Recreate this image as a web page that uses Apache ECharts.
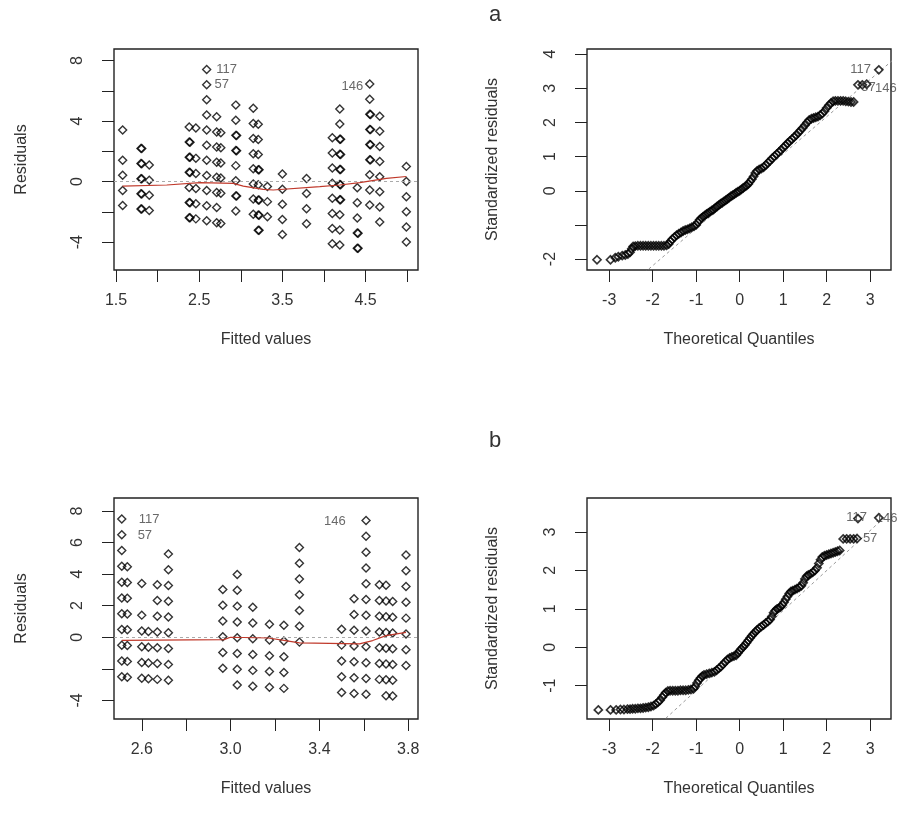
<!DOCTYPE html>
<html><head><meta charset="utf-8">
<script src="https://cdn.jsdelivr.net/npm/echarts@6/dist/echarts.min.js"></script>
<style>html,body{margin:0;padding:0;background:#fff}#c{width:897px;height:829px}</style>
</head><body><div id="c"></div>
<script>
// ---------- Panel a (left): residuals vs fitted ----------
const fittedA = [1.58, 1.80, 1.81, 1.90, 2.38, 2.39, 2.46, 2.59, 2.71, 2.76, 2.94, 2.95, 3.15, 3.21, 3.22, 3.32, 3.50, 3.79, 4.10, 4.19, 4.20, 4.40, 4.41, 4.55, 4.56, 4.67, 4.99];
const residA = [
  [3.42, 1.42, 0.42, -0.58, -1.58],
  [2.2, 1.2, 0.2, -0.8, -1.8],
  [2.19, 1.19, 0.19, -0.81, -1.81],
  [1.1, 0.1, -0.9, -1.9],
  [3.62, 2.62, 1.62, 0.62, -0.38, -1.38, -2.38],
  [2.61, 1.61, 0.61, -1.39, -2.39],
  [3.54, 1.54, 0.54, -0.46, -1.46, -2.46],
  [7.41, 6.41, 5.41, 4.41, 3.41, 2.41, 1.41, 0.41, -0.59, -1.59, -2.59],
  [4.29, 3.29, 2.29, 1.29, 0.29, -0.71, -1.71, -2.71],
  [3.24, 2.24, 1.24, 0.24, -0.76, -2.76],
  [5.06, 4.06, 3.06, 2.06, 1.06, 0.06, -0.94, -1.94],
  [3.05, 2.05, -0.95],
  [4.85, 3.85, 2.85, 1.85, 0.85, -0.15, -1.15, -2.15],
  [3.79, 2.79, 1.79, 0.79, -0.21, -1.21, -2.21, -3.21],
  [0.78, -1.22, -2.22, -3.22],
  [-0.32, -1.32, -2.32],
  [0.5, -0.5, -1.5, -2.5, -3.5],
  [0.21, -0.79, -1.79, -2.79],
  [2.9, 1.9, 0.9, -0.1, -1.1, -2.1, -3.1, -4.1],
  [4.81, 3.81, 2.81, 1.81, 0.81, -0.19, -1.19, -2.19, -3.19, -4.19],
  [2.8, 1.8, 0.8, -0.2, -1.2],
  [-0.4, -1.4, -2.4, -3.4, -4.4],
  [-3.41, -4.41],
  [6.45, 5.45, 4.45, 3.45, 2.45, 1.45, 0.45, -0.55, -1.55],
  [4.44, 3.44, 2.44, 1.44],
  [4.33, 3.33, 2.33, 1.33, 0.33, -0.67, -1.67, -2.67],
  [1.01, 0.01, -0.99, -1.99, -2.99, -3.99]
];
const smoothA = [[1.58,-0.29],[2.11,-0.22],[2.12,-0.11],[2.51,-0.06],[2.91,-0.11],[3.03,-0.29],[3.27,-0.51],[3.39,-0.55],[3.95,-0.33],[4.19,-0.22],[4.43,-0.06],[4.75,0.22],[4.99,0.34]];
const idLabelsA = [{text:'117', x:2.83, y:7.4},{text:'57', x:2.77, y:6.4},{text:'146', x:4.34, y:6.27}];

// ---------- Panel a (right): normal Q-Q ----------
const qqA = [[-3.28,-2.02],[-2.97,-2.02],[-2.86,-1.96],[-2.79,-1.93],[-2.70,-1.90],[-2.63,-1.88],[-2.57,-1.85],[-2.52,-1.80],[-2.48,-1.70],[-2.45,-1.63],
  [-2.40,-1.62],[-2.34,-1.61],[-2.28,-1.61],[-2.22,-1.61],[-2.16,-1.61],[-2.10,-1.61],[-2.04,-1.61],[-1.98,-1.61],[-1.92,-1.61],[-1.86,-1.61],[-1.80,-1.61],[-1.74,-1.61],[-1.68,-1.60],[-1.63,-1.56],
  [-1.59,-1.48],[-1.55,-1.42],[-1.50,-1.36],[-1.45,-1.30],[-1.40,-1.26],[-1.35,-1.22],[-1.30,-1.18],[-1.25,-1.15],[-1.20,-1.13],[-1.15,-1.10],[-1.10,-1.07],[-1.05,-1.04],[-1.00,-1.00],[-0.96,-0.92],[-0.92,-0.85],[-0.88,-0.80],[-0.84,-0.76],[-0.80,-0.72],[-0.76,-0.68],[-0.72,-0.65],[-0.68,-0.61],[-0.64,-0.58],[-0.60,-0.55],[-0.56,-0.50],[-0.52,-0.46],[-0.48,-0.42],[-0.44,-0.38],[-0.40,-0.35],[-0.36,-0.31],[-0.32,-0.28],[-0.28,-0.24],[-0.24,-0.20],[-0.20,-0.16],[-0.16,-0.13],[-0.12,-0.10],[-0.08,-0.06],[-0.04,-0.03],[0.00,0.00],[0.04,0.04],[0.08,0.08],[0.12,0.12],[0.16,0.15],[0.20,0.20],[0.24,0.27],[0.28,0.34],[0.32,0.42],[0.36,0.52],[0.40,0.58],[0.45,0.62],[0.50,0.65],[0.55,0.69],[0.60,0.75],[0.65,0.82],[0.70,0.88],[0.75,0.95],[0.80,1.01],[0.85,1.07],[0.90,1.13],[0.95,1.19],[1.00,1.26],[1.05,1.32],[1.10,1.39],[1.15,1.45],[1.20,1.51],[1.25,1.57],[1.30,1.63],[1.35,1.70],[1.40,1.77],[1.45,1.84],[1.50,1.92],[1.55,2.00],[1.60,2.07],[1.65,2.11],[1.70,2.13],[1.75,2.15],[1.80,2.17],[1.85,2.21],[1.90,2.26],[1.95,2.33],[2.00,2.42],[2.05,2.50],[2.10,2.57],[2.15,2.62],
  [2.20,2.63],[2.26,2.63],[2.32,2.63],[2.38,2.63],[2.44,2.62],[2.50,2.61],[2.56,2.60],[2.62,2.60],
  [2.72,3.10],[2.82,3.10],[2.92,3.12],[3.20,3.54]];
const qqLineA = [[-2.3,-2.52],[3.6,3.91]];
const qqLabelsA = [{text:'117', x:2.78, y:3.56},{text:'57', x:2.96, y:3.03},{text:'146', x:3.36, y:3.0}];

// ---------- Panel b (left): residuals vs fitted ----------
const fittedB = [2.51, 2.535, 2.60, 2.63, 2.67, 2.72, 2.965, 3.03, 3.10, 3.175, 3.24, 3.31, 3.50, 3.556, 3.61, 3.67, 3.70, 3.73, 3.79];
const residB = [
  [7.49, 6.49, 5.49, 4.49, 3.49, 2.49, 1.49, 0.49, -0.51, -1.51, -2.51],
  [4.47, 3.47, 2.47, 1.47, 0.47, -0.53, -1.53, -2.53],
  [3.4, 1.4, 0.4, -0.6, -1.6, -2.6],
  [0.37, -0.63, -1.63, -2.63],
  [3.33, 2.33, 1.33, 0.33, -0.67, -1.67, -2.67],
  [5.28, 4.28, 3.28, 2.28, 1.28, 0.28, -0.72, -1.72, -2.72],
  [3.03, 2.03, 1.03, 0.03, -0.97, -1.97],
  [3.97, 2.97, 1.97, 0.97, -0.03, -1.03, -2.03, -3.03],
  [1.9, 0.9, -0.1, -1.1, -2.1, -3.1],
  [0.825, -0.175, -1.175, -2.175, -3.175],
  [0.76, -0.24, -1.24, -2.24, -3.24],
  [5.69, 4.69, 3.69, 2.69, 1.69, 0.69, -0.31],
  [0.5, -0.5, -1.5, -2.5, -3.5],
  [2.44, 1.44, 0.44, -0.56, -1.56, -2.56, -3.56],
  [7.39, 6.39, 5.39, 4.39, 3.39, 2.39, 1.39, 0.39, -0.61, -1.61, -2.61, -3.61],
  [3.33, 2.33, 1.33, 0.33, -0.67, -1.67, -2.67],
  [3.3, 2.3, 1.3, 0.3, -0.7, -1.7, -2.7, -3.7],
  [2.27, 1.27, 0.27, -0.73, -1.73, -2.73, -3.73],
  [5.21, 4.21, 3.21, 2.21, 1.21, 0.21, -0.79, -1.79]
];
const smoothB = [[2.51,-0.2],[2.97,-0.15],[3.0,0.0],[3.17,-0.05],[3.24,-0.2],[3.31,-0.36],[3.58,-0.42],[3.64,-0.21],[3.70,0.1],[3.79,0.31]];
const idLabelsB = [{text:'117', x:2.633, y:7.44},{text:'57', x:2.614, y:6.43},{text:'146', x:3.47, y:7.31}];

// ---------- Panel b (right): normal Q-Q ----------
const qqB = [[-3.25,-1.63],[-2.97,-1.63],[-2.84,-1.63],[-2.74,-1.62],[-2.66,-1.62],[-2.58,-1.61],[-2.52,-1.61],[-2.46,-1.60],[-2.40,-1.60],[-2.34,-1.59],[-2.28,-1.59],[-2.22,-1.58],[-2.16,-1.57],[-2.10,-1.56],[-2.04,-1.54],[-1.98,-1.52],[-1.93,-1.48],[-1.88,-1.43],[-1.83,-1.38],[-1.78,-1.30],[-1.74,-1.24],[-1.70,-1.18],[-1.65,-1.14],[-1.60,-1.13],[-1.54,-1.13],[-1.48,-1.13],[-1.42,-1.13],[-1.36,-1.12],[-1.30,-1.12],[-1.24,-1.12],[-1.18,-1.11],[-1.12,-1.10],[-1.06,-1.08],[-1.02,-1.02],[-0.98,-0.93],[-0.94,-0.86],[-0.90,-0.80],[-0.86,-0.75],[-0.82,-0.72],[-0.76,-0.70],[-0.70,-0.68],[-0.64,-0.66],[-0.58,-0.64],[-0.53,-0.60],[-0.48,-0.55],[-0.43,-0.50],[-0.38,-0.44],[-0.33,-0.38],[-0.28,-0.32],[-0.23,-0.28],[-0.18,-0.25],[-0.13,-0.23],[-0.08,-0.21],[-0.04,-0.15],[0.00,-0.09],[0.04,-0.04],[0.08,0.01],[0.12,0.06],[0.16,0.12],[0.20,0.18],[0.24,0.24],[0.28,0.30],[0.32,0.35],[0.36,0.40],[0.40,0.45],[0.45,0.50],[0.50,0.54],[0.55,0.58],[0.60,0.63],[0.65,0.67],[0.70,0.72],[0.74,0.80],[0.78,0.90],[0.82,0.96],[0.86,1.00],[0.90,1.02],[0.94,1.05],[0.98,1.10],[1.02,1.17],[1.06,1.25],[1.10,1.32],[1.14,1.40],[1.18,1.45],[1.22,1.47],[1.27,1.50],[1.32,1.53],[1.37,1.56],[1.42,1.60],[1.46,1.68],[1.50,1.78],[1.54,1.85],[1.58,1.88],[1.63,1.91],[1.68,1.95],[1.73,2.00],[1.78,2.07],[1.82,2.18],[1.86,2.28],[1.90,2.35],[1.95,2.38],[2.00,2.40],[2.05,2.42],[2.10,2.44],[2.15,2.46],[2.20,2.48],[2.25,2.50],[2.30,2.52],
  [2.38,2.82],[2.46,2.82],[2.54,2.82],[2.62,2.82],[2.70,2.83],
  [2.72,3.35],[3.20,3.37]];
const qqLineB = [[-1.9,-2.06],[3.6,3.66]];
const qqLabelsB = [{text:'117', x:2.69, y:3.37},{text:'146', x:3.38, y:3.35},{text:'57', x:3.0, y:2.82}];

// ---------- axis ticks / labels ----------
const ticksXA = [1.5, 2.0, 2.5, 3.0, 3.5, 4.0, 4.5, 5.0];
const labelsXA = [1.5, 2.5, 3.5, 4.5];
const ticksYA = [-4, -2, 0, 2, 4, 6, 8];
const labelsYA = [-4, 0, 4, 8];
const ticksXB = [2.6, 2.8, 3.0, 3.2, 3.4, 3.6, 3.8];
const labelsXB = [2.6, 3.0, 3.4, 3.8];
const ticksYB = [-4, -2, 0, 2, 4, 6, 8];
const labelsYB = [-4, 0, 2, 4, 6, 8];
const ticksQX = [-3, -2, -1, 0, 1, 2, 3];
const ticksQYA = [-2, -1, 0, 1, 2, 3, 4];
const labelsQYA = [-2, 0, 1, 2, 3, 4];
const ticksQYB = [-1, 0, 1, 2, 3];

const FONT = 'Liberation Sans';
const TXT = '#333';

function pairs(fitted, resid){
  const out = [];
  fitted.forEach((f, i) => resid[i].forEach(r => out.push([f, r])));
  return out;
}

const grids = [
  {left:114, top:49, width:304, height:221},
  {left:587, top:49, width:304, height:221},
  {left:114, top:498, width:304, height:221},
  {left:587, top:498, width:304, height:221}
];

function xAx(gi, min, max, ticks, labels, name, fmt){
  return {type:'value', gridIndex:gi, min:min, max:max, position:'bottom',
    name:name, nameLocation:'middle', nameGap:62,
    nameTextStyle:{fontFamily:FONT, fontSize:16, color:TXT},
    axisLine:{show:false, onZero:false}, splitLine:{show:false},
    axisTick:{show:true, inside:false, length:12, customValues:ticks, lineStyle:{color:'#222', width:1}},
    axisLabel:{show:true, customValues:labels, margin:23, fontFamily:FONT, fontSize:16, color:TXT, formatter:fmt}};
}
function yAx(gi, min, max, ticks, labels, name, gap){
  return {type:'value', gridIndex:gi, min:min, max:max, position:'left',
    name:name, nameLocation:'middle', nameGap:gap, nameRotate:90,
    nameTextStyle:{fontFamily:FONT, fontSize:16, color:TXT},
    axisLine:{show:false, onZero:false}, splitLine:{show:false},
    axisTick:{show:true, inside:false, length:12, customValues:ticks, lineStyle:{color:'#222', width:1}},
    axisLabel:{show:true, customValues:labels, margin:28, rotate:90, fontFamily:FONT, fontSize:16, color:TXT, formatter:v=>String(v)}};
}

function pointSeries(gi, data, bw){
  return {type:'scatter', xAxisIndex:gi, yAxisIndex:gi, symbol:'diamond', symbolSize:[8,8],
    itemStyle:{color:'rgba(0,0,0,0)', borderColor:'#000', borderWidth:bw}, silent:true, data:data, z:3};
}
function textSeries(gi, labels){
  return {type:'scatter', xAxisIndex:gi, yAxisIndex:gi, symbolSize:1, silent:true, clip:false,
    itemStyle:{color:'rgba(0,0,0,0)'},
    label:{show:true, position:'inside', formatter:p=>p.name, fontFamily:FONT, fontSize:13, color:'#444'},
    data:labels.map(l => ({name:l.text, value:[l.x, l.y]})), z:4};
}
function zeroLine(gi){
  return {type:'line', xAxisIndex:gi, yAxisIndex:gi, data:[], silent:true,
    markLine:{silent:true, symbol:['none','none'], label:{show:false},
      lineStyle:{type:[3,3], color:'#aaa', width:1}, data:[{yAxis:0}]}};
}
function smoothSeries(gi, data){
  return {type:'line', xAxisIndex:gi, yAxisIndex:gi, data:data, symbol:'none', silent:true,
    lineStyle:{color:'#c0392b', width:1.2}, z:5};
}
function refLine(gi, data){
  return {type:'line', xAxisIndex:gi, yAxisIndex:gi, data:data, symbol:'none', silent:true, clip:true,
    lineStyle:{color:'#999', width:1, type:[3,3]}, z:2};
}

const fmt1 = v => Number(v).toFixed(1);
const fmt0 = v => String(v);

const option = {
  animation:false,
  backgroundColor:'#fff',
  grid: grids.map(g => Object.assign({show:true, borderColor:'#222', borderWidth:1.4, backgroundColor:'rgba(0,0,0,0)', containLabel:false}, g)),
  xAxis:[
    xAx(0, 1.476, 5.13, ticksXA, labelsXA, 'Fitted values', fmt1),
    xAx(1, -3.51, 3.48, ticksQX, ticksQX, 'Theoretical Quantiles', fmt0),
    xAx(2, 2.475, 3.844, ticksXB, labelsXB, 'Fitted values', fmt1),
    xAx(3, -3.51, 3.48, ticksQX, ticksQX, 'Theoretical Quantiles', fmt0)
  ],
  yAxis:[
    yAx(0, -5.84, 8.77, ticksYA, labelsYA, 'Residuals', 84),
    yAx(1, -2.32, 4.15, ticksQYA, labelsQYA, 'Standardized residuals', 86),
    yAx(2, -5.18, 8.82, ticksYB, labelsYB, 'Residuals', 84),
    yAx(3, -1.867, 3.885, ticksQYB, ticksQYB, 'Standardized residuals', 86)
  ],
  graphic:[
    {type:'text', left:489, top:4, style:{text:'a', font:'22px ' + FONT, fill:TXT}},
    {type:'text', left:489, top:430, style:{text:'b', font:'22px ' + FONT, fill:TXT}}
  ],
  series:[
    zeroLine(0),
    pointSeries(0, pairs(fittedA, residA), 1.4),
    smoothSeries(0, smoothA),
    textSeries(0, idLabelsA),
    refLine(1, qqLineA),
    pointSeries(1, qqA, 1.7),
    textSeries(1, qqLabelsA),
    zeroLine(2),
    pointSeries(2, pairs(fittedB, residB), 1.4),
    smoothSeries(2, smoothB),
    textSeries(2, idLabelsB),
    refLine(3, qqLineB),
    pointSeries(3, qqB, 1.7),
    textSeries(3, qqLabelsB)
  ]
};

const chart = echarts.init(document.getElementById('c'), null, {renderer:'canvas'});
chart.setOption(option);
</script>
</body></html>
